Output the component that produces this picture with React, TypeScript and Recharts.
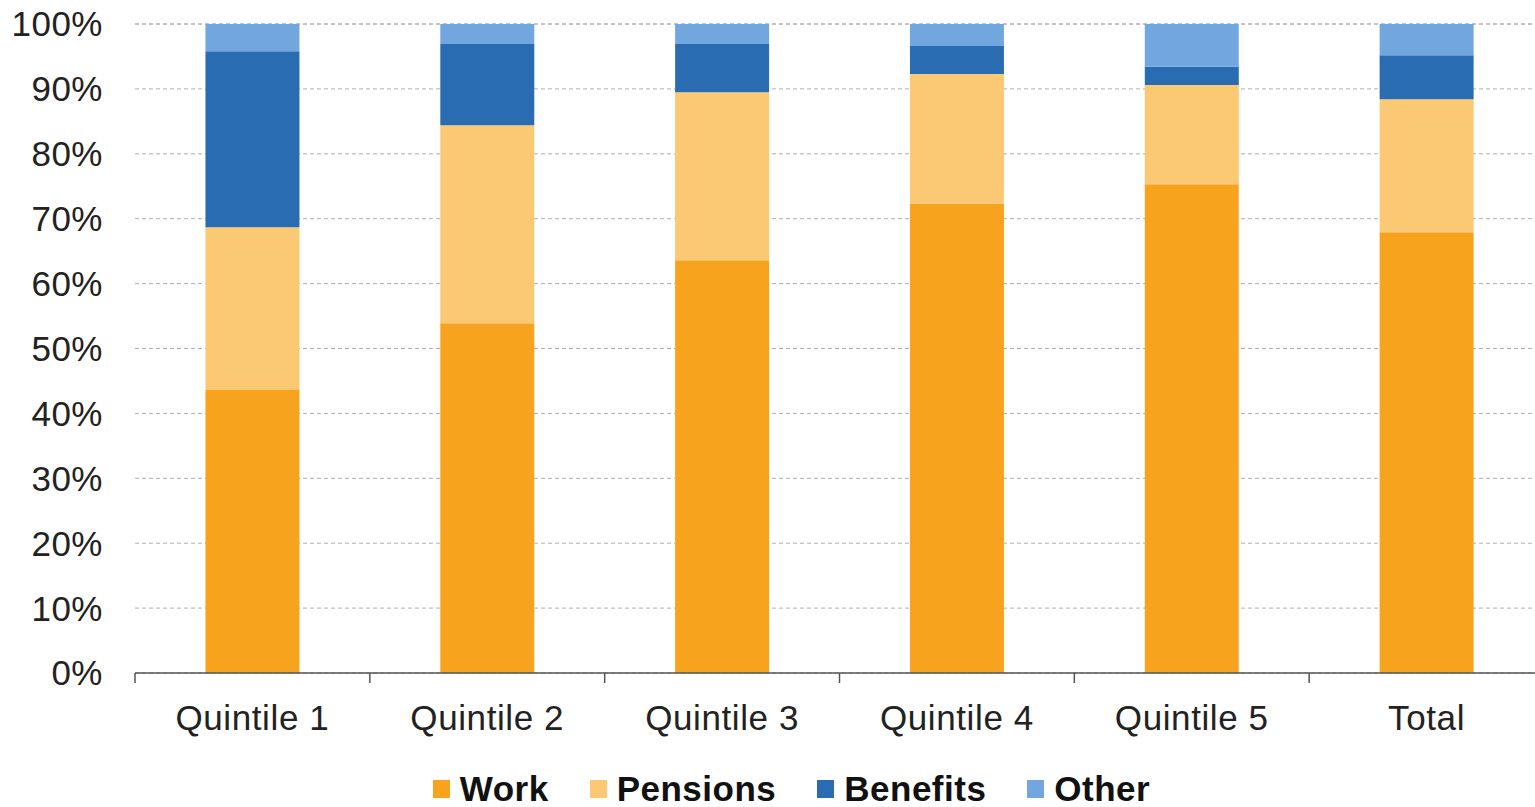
import { BarChart, Bar, XAxis, YAxis, CartesianGrid, Legend } from "recharts";

const categories = ["Quintile 1", "Quintile 2", "Quintile 3", "Quintile 4", "Quintile 5", "Total"];
const work = [43.6, 53.9, 63.6, 72.3, 75.3, 67.9];
const pensions = [25.1, 30.5, 25.9, 20.0, 15.3, 20.5];
const benefits = [27.1, 12.5, 7.4, 4.3, 2.8, 6.8];
const other = [4.2, 3.1, 3.1, 3.4, 6.6, 4.8];
const yTicks = [0, 10, 20, 30, 40, 50, 60, 70, 80, 90, 100];

const series = [
  { key: "work", name: "Work", color: "#F8A31E" },
  { key: "pensions", name: "Pensions", color: "#FBC874" },
  { key: "benefits", name: "Benefits", color: "#2A6CB2" },
  { key: "other", name: "Other", color: "#71A7DE" },
];

const data = categories.map((c, i) => ({
  name: c,
  work: work[i],
  pensions: pensions[i],
  benefits: benefits[i],
  other: other[i],
}));

const FONT = "'Liberation Sans', Arial, sans-serif";

function CategoryTick(props: any) {
  const { x, y, payload, width, visibleTicksCount, index } = props;
  const band = width / visibleTicksCount;
  const axisY = y - 8;
  return (
    <g>
      <line x1={x - band / 2} x2={x - band / 2} y1={axisY} y2={axisY + 10} stroke="#555" strokeWidth={1.5} />
      {index === visibleTicksCount - 1 && (
        <line x1={x + band / 2} x2={x + band / 2} y1={axisY} y2={axisY + 10} stroke="#555" strokeWidth={1.5} />
      )}
      <text x={x} y={axisY + 32} dy="0.71em" textAnchor="middle" fontSize={35} letterSpacing={0.6} fill="#222" fontFamily={FONT}>
        {payload.value}
      </text>
    </g>
  );
}

function LegendContent() {
  return (
    <div style={{ display: "flex", justifyContent: "center", alignItems: "center", height: 50, paddingTop: 14, paddingLeft: 80, boxSizing: "border-box", fontFamily: FONT }}>
      {series.map((s) => (
        <div key={s.key} style={{ display: "flex", alignItems: "center", marginRight: 41 }}>
          <span style={{ display: "inline-block", width: 17, height: 18, background: s.color, marginRight: 10 }} />
          <span style={{ fontSize: 35, fontWeight: "bold", color: "#111", letterSpacing: 0.5 }}>{s.name}</span>
        </div>
      ))}
    </div>
  );
}

export default function App() {
  return (
    <div style={{ position: "absolute", left: 0, top: 0, width: 1535, height: 807, background: "#fff", overflow: "hidden" }}>
      <BarChart width={1544} height={807} data={data} margin={{ top: 24, right: 0, left: 0, bottom: 0 }} barCategoryGap="30%">
        <CartesianGrid vertical={false} stroke="#b0b0b0" strokeDasharray="4 3" />
        <XAxis
          dataKey="name"
          height={84}
          tickLine={false}
          axisLine={{ stroke: "#555", strokeWidth: 1.5 }}
          interval={0}
          tick={<CategoryTick />}
        />
        <YAxis
          width={135}
          domain={[0, 100]}
          ticks={yTicks}
          axisLine={false}
          tickLine={false}
          tickMargin={26}
          tickFormatter={(v) => `${v}%`}
          tick={{ fontSize: 35, fill: "#222", fontFamily: FONT, letterSpacing: 0.5 }}
        />
        <Legend verticalAlign="bottom" content={<LegendContent />} wrapperStyle={{ height: 50 }} />
        {series.map((s) => (
          <Bar key={s.key} dataKey={s.key} name={s.name} stackId="a" fill={s.color} isAnimationActive={false} />
        ))}
      </BarChart>
    </div>
  );
}
